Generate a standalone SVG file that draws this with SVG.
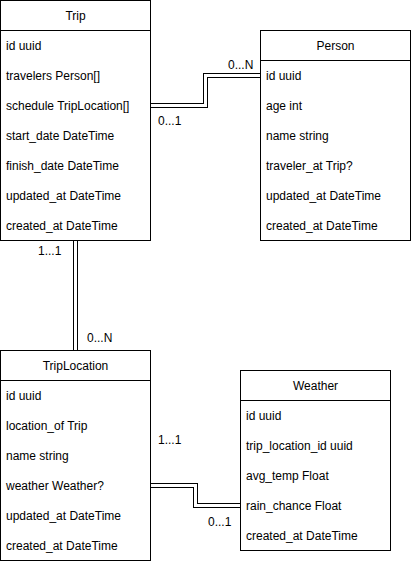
<svg xmlns="http://www.w3.org/2000/svg" width="411" height="561" viewBox="0 0 411 561">
<style>
.box{fill:#fff;stroke:#000;stroke-width:1}
.t{font-family:"Liberation Sans",Arial,sans-serif;font-size:12px;fill:#000}
.h{text-anchor:middle}
.outer{fill:none;stroke:#000;stroke-width:5}
.inner{fill:none;stroke:#fff;stroke-width:3}
</style>
<g id="connectors">
<path class="outer" d="M151,105.5 H205.5 V75.5 H260"/>
<path class="inner" d="M150,105.5 H205.5 V75.5 H261"/>
<path class="outer" d="M75.5,241 V350"/>
<path class="inner" d="M75.5,240 V351"/>
<path class="outer" d="M151,485.5 H195.5 V505.5 H240"/>
<path class="inner" d="M150,485.5 H195.5 V505.5 H241"/>
<text class="t" x="228" y="69">0...N</text>
<text class="t" x="158" y="125">0...1</text>
<text class="t" x="38" y="255">1...1</text>
<text class="t" x="87" y="342">0...N</text>
<text class="t" x="158" y="444">1...1</text>
<text class="t" x="208" y="526">0...1</text>
</g>
<g id="Trip">
<rect class="box" x="0.5" y="0.5" width="150" height="240"/>
<line x1="0.5" y1="30.5" x2="150.5" y2="30.5" stroke="#000"/>
<text class="t h" x="75.5" y="20">Trip</text>
<text class="t" x="6" y="50">id uuid</text>
<text class="t" x="6" y="80">travelers Person[]</text>
<text class="t" x="6" y="110">schedule TripLocation[]</text>
<text class="t" x="6" y="140">start_date DateTime</text>
<text class="t" x="6" y="170">finish_date DateTime</text>
<text class="t" x="6" y="200">updated_at DateTime</text>
<text class="t" x="6" y="230">created_at DateTime</text>
</g>
<g id="Person">
<rect class="box" x="260.5" y="30.5" width="150" height="210"/>
<line x1="260.5" y1="60.5" x2="410.5" y2="60.5" stroke="#000"/>
<text class="t h" x="335.5" y="50">Person</text>
<text class="t" x="266" y="80">id uuid</text>
<text class="t" x="266" y="110">age int</text>
<text class="t" x="266" y="140">name string</text>
<text class="t" x="266" y="170">traveler_at Trip?</text>
<text class="t" x="266" y="200">updated_at DateTime</text>
<text class="t" x="266" y="230">created_at DateTime</text>
</g>
<g id="TripLocation">
<rect class="box" x="0.5" y="350.5" width="150" height="210"/>
<line x1="0.5" y1="380.5" x2="150.5" y2="380.5" stroke="#000"/>
<text class="t h" x="75.5" y="370">TripLocation</text>
<text class="t" x="6" y="400">id uuid</text>
<text class="t" x="6" y="430">location_of Trip</text>
<text class="t" x="6" y="460">name string</text>
<text class="t" x="6" y="490">weather Weather?</text>
<text class="t" x="6" y="520">updated_at DateTime</text>
<text class="t" x="6" y="550">created_at DateTime</text>
</g>
<g id="Weather">
<rect class="box" x="240.5" y="370.5" width="150" height="180"/>
<line x1="240.5" y1="400.5" x2="390.5" y2="400.5" stroke="#000"/>
<text class="t h" x="315.5" y="390">Weather</text>
<text class="t" x="246" y="420">id uuid</text>
<text class="t" x="246" y="450">trip_location_id uuid</text>
<text class="t" x="246" y="480">avg_temp Float</text>
<text class="t" x="246" y="510">rain_chance Float</text>
<text class="t" x="246" y="540">created_at DateTime</text>
</g>
</svg>
